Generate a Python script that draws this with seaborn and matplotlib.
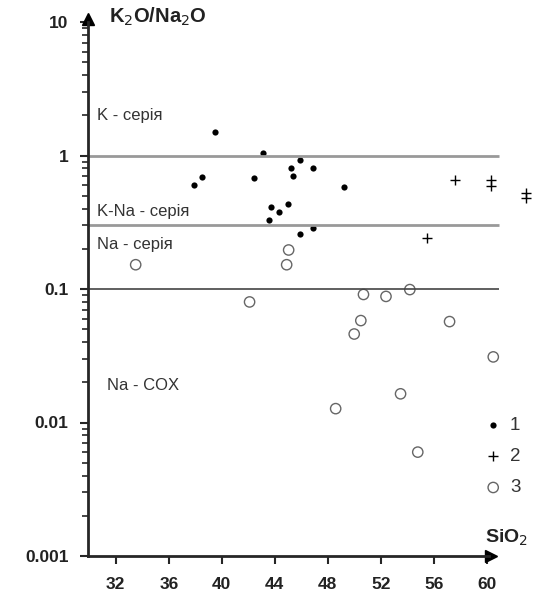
import numpy as np
import pandas as pd
import matplotlib
matplotlib.use("Agg")
import matplotlib.pyplot as plt
import seaborn as sns

# series 1 - filled dots
s1_x = [37.9, 38.5, 39.5, 42.4, 43.1, 43.6, 43.7, 44.3, 45.0, 45.25, 45.4, 45.9, 45.9, 46.9, 46.9, 49.2]
s1_y = [0.60, 0.685, 1.49, 0.68, 1.04, 0.326, 0.41, 0.38, 0.43, 0.80, 0.70, 0.93, 0.26, 0.80, 0.285, 0.58]
# series 2 - plus
s2_x = [55.5, 57.6, 60.35, 60.35, 63.0, 63.0]
s2_y = [0.24, 0.66, 0.655, 0.59, 0.52, 0.48]
# series 3 - open circles
s3_x = [33.5, 42.1, 44.9, 45.05, 48.6, 50.0, 50.5, 50.7, 52.4, 53.5, 54.2, 54.8, 57.2, 60.5]
s3_y = [0.152, 0.080, 0.152, 0.196, 0.0127, 0.046, 0.058, 0.091, 0.088, 0.0164, 0.099, 0.006, 0.057, 0.031]

boundaries = [1, 0.3, 0.1]
x_ticks = [32, 36, 40, 44, 48, 52, 56, 60]
y_ticks = [0.001, 0.01, 0.1, 1, 10]
y_ticklabels = ["0.001", "0.01", "0.1", "1", "10"]
series_labels = ["1", "2", "3"]
region_labels = ["K - серія", "K-Na - серія", "Na - серія", "Na - COX"]

sns.set_style("ticks")
plt.rcParams["font.family"] = ["Liberation Sans", "DejaVu Sans"]

fig = plt.figure(figsize=(5.34, 6.0), dpi=100)
ax = fig.add_axes([88 / 534, 44 / 600, 445 / 534, 534 / 600])

df1 = pd.DataFrame({"x": s1_x, "y": s1_y})
df2 = pd.DataFrame({"x": s2_x, "y": s2_y})
df3 = pd.DataFrame({"x": s3_x, "y": s3_y})

sns.scatterplot(data=df1, x="x", y="y", ax=ax, color="black", s=20, linewidth=0,
                label=series_labels[0], clip_on=False)
sns.scatterplot(data=df2, x="x", y="y", ax=ax, marker="+", color="black", s=55, linewidth=1,
                label=series_labels[1], clip_on=False)
sns.scatterplot(data=df3, x="x", y="y", ax=ax, marker="o", facecolor="none", edgecolor="#666666",
                s=55, linewidth=1.0, label=series_labels[2], clip_on=False)

ax.hlines(boundaries[:2], 29.9, 60.9, color="#999999", lw=2, zorder=1)
ax.hlines(boundaries[2:], 29.9, 60.9, color="#444444", lw=1.2, zorder=1)

ax.set_yscale("log")
ax.set_xlim(29.9, 63.5)
ax.set_ylim(0.001, 10)
ax.set_xticks(x_ticks)
ax.set_xticklabels([str(t) for t in x_ticks], fontsize=12.5, fontweight="bold", color="#222222")
ax.set_yticks(y_ticks)
ax.set_yticklabels(y_ticklabels, fontsize=12.5, fontweight="bold", color="#222222")
ax.tick_params(axis="y", which="major", direction="out", length=6, width=1.5, pad=8)
ax.tick_params(axis="y", which="minor", direction="out", length=4, width=1.2)
ax.tick_params(axis="x", which="major", direction="out", length=6, width=1.5, pad=9)
ax.set_xlabel("")
ax.set_ylabel("")

sns.despine(ax=ax)
ax.spines["left"].set_linewidth(2)
ax.spines["bottom"].set_linewidth(2)
ax.spines["bottom"].set_bounds(29.9, 60.2)
ax.plot([60.3], [0.001], marker=">", color="black", markersize=9, clip_on=False)
ax.plot([29.9], [10.5], marker="^", color="black", markersize=9, clip_on=False)

ax.text(31.5, 10.9, "K$_2$O/Na$_2$O", fontsize=14.5, fontweight="bold", va="center", color="#222222")
ax.text(59.9, 0.00137, "SiO$_2$", fontsize=14, fontweight="bold", va="center", color="#222222")

ax.text(30.6, 2.0, region_labels[0], fontsize=12, color="#333333", va="center")
ax.text(30.6, 0.38, region_labels[1], fontsize=12, color="#333333", va="center")
ax.text(30.6, 0.215, region_labels[2], fontsize=12, color="#333333", va="center")
ax.text(31.3, 0.019, region_labels[3], fontsize=12, color="#333333", va="center")

ax.legend(loc="lower right", bbox_to_anchor=(1.01, 0.08), frameon=False, fontsize=13.5,
          handletextpad=0.4, labelspacing=0.75, handlelength=1.0, labelcolor="#333333")

fig.savefig("out.png", dpi=100, facecolor="white")
